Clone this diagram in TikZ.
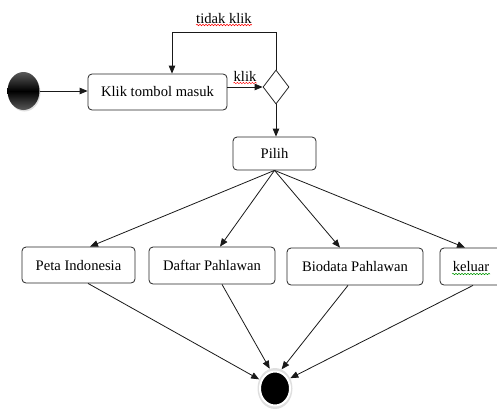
\documentclass[tikz,border=0pt]{standalone}
\usepackage{fontspec}
\setmainfont{Liberation Serif}
\usetikzlibrary{arrows.meta,shapes.geometric,shadows,decorations.pathmorphing}
\begin{document}
\begin{tikzpicture}[x=1pt,y=-1pt,
  box/.style={draw=black!85, line width=0.8pt, rounded corners=4pt, fill=white, inner sep=0pt, font=\fontsize{14.6}{16}\selectfont},
  arr/.style={draw=black!90, line width=0.8pt, -{Triangle[length=8pt,width=6.5pt]}},
  lbl/.style={font=\fontsize{14.6}{16}\selectfont, inner sep=0pt, anchor=base},
  squig/.style={decorate, decoration={snake, segment length=3pt, amplitude=0.7pt}, line width=0.5pt}]
\useasboundingbox (0,0) rectangle (497,410);
% start
\node[ellipse, minimum width=32pt, minimum height=38pt, inner sep=0pt,
      top color=black!65, bottom color=black!65, middle color=black,
      drop shadow={opacity=0.25, shadow xshift=1pt, shadow yshift=-1.5pt}] (start) at (23.5,91) {};
% boxes
\node[box, minimum width=139pt, minimum height=36pt] (klik) at (157.5,92) {Klik tombol masuk};
\node[diamond, draw=black!85, line width=0.8pt, fill=white, minimum width=26pt, minimum height=34pt, inner sep=0pt] (dia) at (276,87) {};
\node[box, minimum width=83pt, minimum height=33pt] (pilih) at (274.5,153.5) {Pilih};
\node[box, minimum width=113pt, minimum height=36pt] (peta) at (78.5,265) {Peta Indonesia};
\node[box, minimum width=126pt, minimum height=37pt] (daftar) at (212,265.5) {Daftar Pahlawan};
\node[box, minimum width=136pt, minimum height=37pt] (bio) at (355,266.5) {Biodata Pahlawan};
\node[box, minimum width=62pt, minimum height=37pt] (kel) at (471,266.5) {keluar};
% end
\node[ellipse, fill=gray!25, minimum width=35pt, minimum height=41pt, inner sep=0pt] (end) at (275,388.5) {};
\node[ellipse, fill=black, draw=white, line width=2pt, minimum width=30pt, minimum height=34pt, inner sep=0pt] (endin) at (end.center) {};
% labels
\node[lbl] (tk) at (224,23) {tidak klik};
\node[lbl] (kl) at (245,81) {klik};
\draw[squig, red] ([yshift=-2pt]tk.base west) -- ([yshift=-2pt]tk.base east);
\draw[squig, red] ([yshift=-2pt]kl.base west) -- ([yshift=-2pt]kl.base east);
\draw[squig, green!60!black] ([xshift=-19pt,yshift=-2.5pt]kel.base) -- ([xshift=19pt,yshift=-2.5pt]kel.base);
% connectors
\draw[arr] (start.east) -- (klik.west |- start.east);
\draw[arr] (klik.east |- dia.west) -- (dia.west);
\coordinate (lt) at (172,32);
\draw[arr] (dia.north) |- (lt) -- (lt |- klik.north);
\draw[arr] (dia.south) -- (pilih.north -| dia.south);
\draw[arr] (pilih.south) -- ([xshift=11.5pt]peta.north);
\draw[arr] (pilih.south) -- ([xshift=8pt]daftar.north);
\draw[arr] (pilih.south) -- ([xshift=-15pt]bio.north);
\draw[arr] (pilih.south) -- ([xshift=-6pt]kel.north);
\draw[arr] ([xshift=9.5pt]peta.south) -- (end.150);
\draw[arr] ([xshift=10pt]daftar.south) -- (end.105);
\draw[arr] ([xshift=-7pt]bio.south) -- (end.71);
\draw[arr] ([xshift=2pt]kel.south) -- (end.34);
\end{tikzpicture}
\end{document}
